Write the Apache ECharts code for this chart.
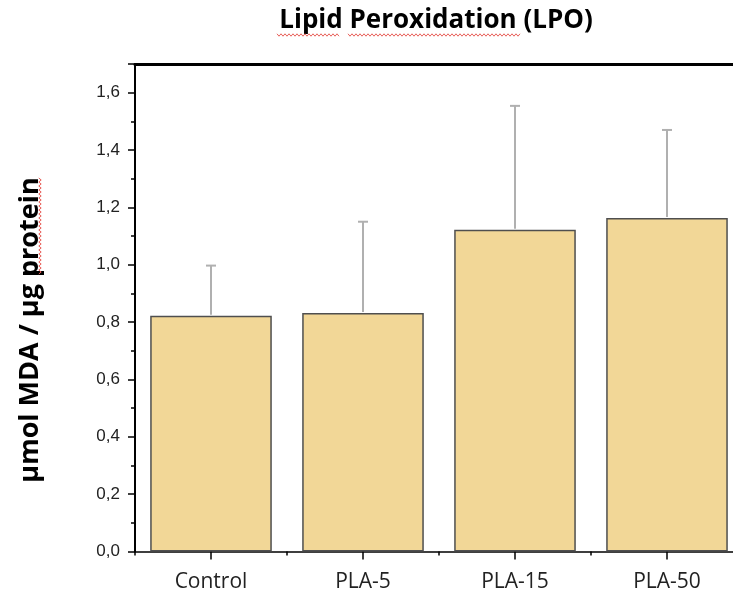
<!DOCTYPE html>
<html>
<head>
<meta charset="utf-8">
<script src="https://cdn.jsdelivr.net/npm/echarts@6/dist/echarts.min.js"></script>
<style>
  html, body { margin: 0; padding: 0; background: #ffffff; }
  #chart { width: 733px; height: 596px; }
</style>
</head>
<body>
<div id="chart"></div>
<script>
// Lipid peroxidation per treatment group (mean with upper SD whisker)
const categories = ['Control', 'PLA-5', 'PLA-15', 'PLA-50'];
const meanValues = [0.822, 0.832, 1.122, 1.163];
const sdValues = [0.175, 0.318, 0.432, 0.307];
const yTicks = [0, 0.2, 0.4, 0.6, 0.8, 1.0, 1.2, 1.4, 1.6];

const chart = echarts.init(document.getElementById('chart'), null, { renderer: 'canvas' });

// red spell-check style squiggle under a run of text
function squiggle(x0, x1, y, vertical) {
  const pts = [];
  let k = 0;
  for (let p = x0; p <= x1; p += 2, k++) {
    const off = (k % 2 === 0) ? -1.2 : 1.2;
    pts.push(vertical ? [y + off, p] : [p, y + off]);
  }
  return {
    type: 'polyline',
    shape: { points: pts },
    style: { stroke: '#e8605a', lineWidth: 1, fill: null },
    silent: true
  };
}

const option = {
  backgroundColor: '#ffffff',
  animation: false,
  grid: { left: 135, top: 64, width: 608, height: 487.5, containLabel: false, outerBoundsMode: 'none' },
  graphic: [
    {
      type: 'text',
      x: 436, y: 21,
      style: {
        text: 'Lipid Peroxidation (LPO)',
        font: 'bold 26px "Open Sans"',
        fill: '#000000',
        align: 'center',
        verticalAlign: 'middle'
      }
    },
    {
      type: 'text',
      x: 30, y: 330,
      rotation: Math.PI / 2,
      style: {
        text: 'µmol MDA / µg protein',
        font: 'bold 27px "Open Sans"',
        fill: '#000000',
        align: 'center',
        verticalAlign: 'middle'
      }
    },
    squiggle(277, 340, 35, false),
    squiggle(348, 520, 35, false),
    squiggle(178, 275, 40, true)
  ],
  xAxis: [
    {
      type: 'category',
      data: categories,
      position: 'bottom',
      axisLine: { show: true, lineStyle: { color: '#000000', width: 1.5 } },
      axisTick: { show: true, alignWithLabel: true, length: 8, lineStyle: { color: '#000000', width: 1.5 } },
      axisLabel: { color: '#222222', fontFamily: 'Open Sans', fontSize: 21, margin: 20 },
      splitLine: { show: false }
    },
    {
      type: 'category',
      data: categories,
      position: 'bottom',
      axisLine: { show: false },
      axisTick: { show: true, length: 4, lineStyle: { color: '#000000', width: 1.5 } },
      axisLabel: { show: false },
      splitLine: { show: false }
    },
    {
      type: 'category',
      data: categories,
      position: 'top',
      axisLine: { show: true, lineStyle: { color: '#000000', width: 3 } },
      axisTick: { show: false },
      axisLabel: { show: false },
      splitLine: { show: false }
    }
  ],
  yAxis: {
    type: 'value',
    min: 0,
    max: 1.7,
    interval: 0.2,
    axisLine: { show: true, lineStyle: { color: '#000000', width: 2 } },
    axisTick: { show: true, length: 7, lineStyle: { color: '#000000', width: 1.5 } },
    minorTick: { show: true, splitNumber: 2, length: 4, lineStyle: { color: '#000000', width: 1.5 } },
    splitLine: { show: false },
    axisLabel: {
      showMaxLabel: false,
      margin: 15,
      color: '#222222',
      fontFamily: 'Liberation Sans',
      fontSize: 17,
      formatter: function (v) {
        const t = yTicks.find(function (x) { return Math.abs(x - v) < 1e-6; });
        return t === undefined ? '' : t.toFixed(1).replace('.', ',');
      }
    }
  },
  series: [
    {
      type: 'bar',
      data: meanValues,
      barCategoryGap: '20%',
      itemStyle: { color: '#f2d797', borderColor: '#4f4f4f', borderWidth: 1.5 },
      z: 2
    },
    {
      type: 'custom',
      data: meanValues.map(function (m, i) { return [i, m, m + sdValues[i]]; }),
      encode: { x: 0, y: [1, 2] },
      z: 3,
      renderItem: function (params, api) {
        const base = api.coord([api.value(0), api.value(1)]);
        const top = api.coord([api.value(0), api.value(2)]);
        const half = 5;
        const st = { stroke: '#b0b0b0', lineWidth: 2 };
        return {
          type: 'group',
          children: [
            { type: 'line', shape: { x1: base[0], y1: base[1] - 1, x2: top[0], y2: top[1] }, style: st },
            { type: 'line', shape: { x1: top[0] - half, y1: top[1], x2: top[0] + half, y2: top[1] }, style: st }
          ]
        };
      }
    }
  ]
};

chart.setOption(option);
</script>
</body>
</html>
